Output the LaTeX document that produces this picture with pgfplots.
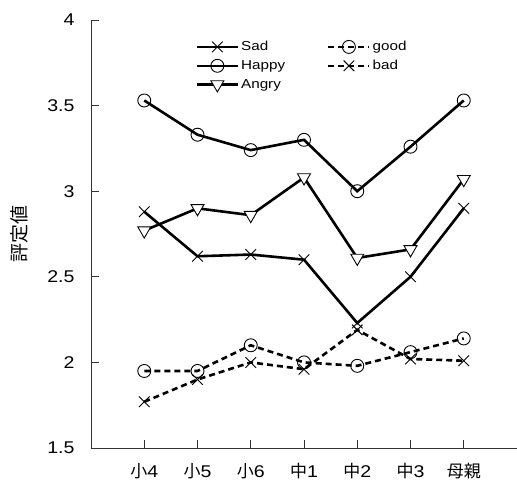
\documentclass[border=0pt]{standalone}
\usepackage{fontspec}
\setmainfont{Liberation Sans}
\newfontfamily\cjk{Noto Sans CJK JP}
\newfontfamily\tickfont{Liberation Sans}[FakeStretch=1.15]
\newfontfamily\legfont{Liberation Sans}[FakeStretch=1.17]
\usepackage{pgfplots}
\pgfplotsset{compat=1.18}
\begin{document}
\begin{tikzpicture}
\begin{axis}[
  scale only axis, width=426bp, height=428bp,
  xmin=-1, xmax=7, ymin=1.5, ymax=4,
  axis x line*=bottom, axis y line*=left,
  axis line style={-, line width=0.9bp, black!80},
  tick style={line width=0.9bp, black!80},
  tick align=inside, major tick length=8bp,
  xtick={0,1,2,3,4,5,6},
  xticklabels={{\cjk 小}4,{\cjk 小}5,{\cjk 小}6,{\cjk 中}1,{\cjk 中}2,{\cjk 中}3,{\cjk 母親}},
  ytick={1.5,2,2.5,3,3.5,4},
  yticklabels={1.5,2,2.5,3,3.5,4},
  ticklabel style={font=\tickfont\fontsize{17bp}{17bp}\selectfont},
  xticklabel style={yshift=-12bp},
  yticklabel style={xshift=-13bp},
  ylabel={\cjk 評定値},
  ylabel style={font=\fontsize{19bp}{19bp}\selectfont, at={(axis description cs:-0.169,0.5)}, anchor=center},
  legend columns=2,
  legend style={draw=none, fill=none, at={(axis description cs:0.245,0.955)}, anchor=north west,
    font=\legfont\fontsize{13bp}{13bp}\selectfont, inner sep=0pt, row sep=4bp,
    /tikz/every even column/.append style={column sep=40bp}},
  legend cell align=left,
  legend image code/.code={
    \draw[#1, line width=2.6bp] (0bp,0bp) -- (41bp,0bp);
    \draw[#1, only marks] plot coordinates {(20.5bp,0bp)};},
]
\addplot[black, line width=2.6bp, solid, mark=x, mark size=7.5bp, mark options={solid, line width=0.9bp}]
  coordinates {(0,2.88) (1,2.62) (2,2.63) (3,2.60) (4,2.23) (5,2.50) (6,2.90)};
\addlegendentry{Sad}
\addplot[black, line width=2.6bp, dash pattern=on 6bp off 4bp, mark=o, mark size=6.5bp, mark options={solid, line width=0.9bp, fill=none}]
  coordinates {(0,1.95) (1,1.95) (2,2.10) (3,2.00) (4,1.98) (5,2.06) (6,2.14)};
\addlegendentry{good}
\addplot[black, line width=2.6bp, solid, mark=o, mark size=6.5bp, mark options={solid, line width=0.9bp, fill=none}]
  coordinates {(0,3.53) (1,3.33) (2,3.24) (3,3.30) (4,3.00) (5,3.26) (6,3.53)};
\addlegendentry{Happy}
\addplot[black, line width=2.6bp, dash pattern=on 6bp off 4bp, mark=x, mark size=7.5bp, mark options={solid, line width=0.9bp}]
  coordinates {(0,1.77) (1,1.90) (2,2.00) (3,1.96) (4,2.19) (5,2.02) (6,2.01)};
\addlegendentry{bad}
\addplot[black, line width=2.6bp, solid, mark=triangle*, mark size=7.5bp, mark options={solid, line width=0.9bp, fill=white, draw=black, rotate=180}]
  coordinates {(0,2.77) (1,2.90) (2,2.86) (3,3.08) (4,2.61) (5,2.66) (6,3.07)};
\addlegendentry{Angry}
\end{axis}
\pgfresetboundingbox
\path ([shift={(-91bp,-32bp)}]current axis.south west) rectangle ([shift={(0bp,20bp)}]current axis.north east);
\end{tikzpicture}
\end{document}
